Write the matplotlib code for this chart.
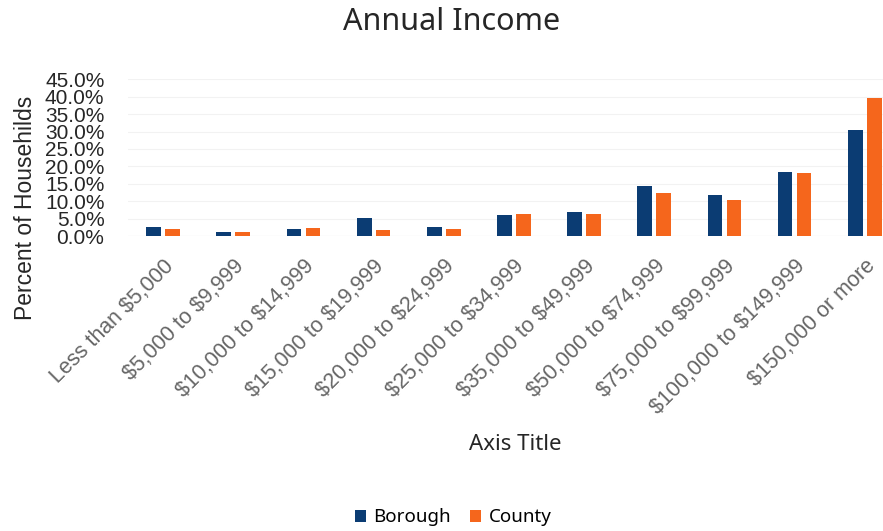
import matplotlib
matplotlib.use("Agg")
import matplotlib.pyplot as plt
import numpy as np
from matplotlib.ticker import PercentFormatter

plt.rcParams['text.parse_math'] = False
plt.rcParams['font.family'] = ['Liberation Sans', 'DejaVu Sans']

categories = ["Less than $5,000", "$5,000 to $9,999", "$10,000 to $14,999",
              "$15,000 to $19,999", "$20,000 to $24,999", "$25,000 to $34,999",
              "$35,000 to $49,999", "$50,000 to $74,999", "$75,000 to $99,999",
              "$100,000 to $149,999", "$150,000 or more"]
borough = [2.7, 1.3, 2.1, 5.3, 2.8, 6.2, 7.0, 14.5, 11.8, 18.5, 30.5]
county = [2.1, 1.2, 2.4, 1.8, 2.0, 6.4, 6.5, 12.5, 10.5, 18.0, 39.5]

fig = plt.figure(figsize=(8.83, 5.31), dpi=100)
ax = fig.add_axes([0.145, 0.555, 0.855, 0.296])

x = np.arange(len(categories))
w = 0.21
off = 0.135
ax.bar(x - off, borough, w, color='#0b3c73', label='Borough', zorder=3)
ax.bar(x + off, county, w, color='#f5661c', label='County', zorder=3)

ax.set_ylim(0, 45)
ax.set_yticks(np.arange(0, 45.1, 5))
ax.yaxis.set_major_formatter(PercentFormatter(decimals=1))
ax.set_xlim(-0.5, 10.26)
ax.set_xticks(x, categories, rotation=45, ha='right', rotation_mode='anchor')
ax.tick_params(axis='x', length=0, labelsize=15.5, colors='#666666', pad=14)
ax.tick_params(axis='y', length=0, labelsize=15, colors='#262626', pad=17)
ax.grid(axis='y', color='#f2f2f2', linewidth=0.8, zorder=0)
for s in ax.spines.values():
    s.set_visible(False)
ax.axhline(0, color='#e6e6e6', linewidth=0.8, zorder=2)

ax.set_ylabel("Percent of Househilds", fontsize=16.5, color='#262626')
ax.yaxis.set_label_coords(-0.121, 0.18)
fig.text(0.511, 0.958, "Annual Income", ha='center', va='center', fontsize=22,
         color='#262626', family=['Noto Sans', 'DejaVu Sans'])
fig.text(0.584, 0.163, "Axis Title", ha='center', va='center', fontsize=16,
         color='#262626', family=['Noto Sans', 'DejaVu Sans'])

fig.legend(loc='center', bbox_to_anchor=(0.513, 0.026), ncol=2, frameon=False,
           prop={'family': ['Noto Sans', 'DejaVu Sans'], 'size': 13.5},
           handlelength=0.6, handleheight=0.6, handletextpad=0.4,
           columnspacing=1.0)

fig.savefig("out.png", dpi=100)
